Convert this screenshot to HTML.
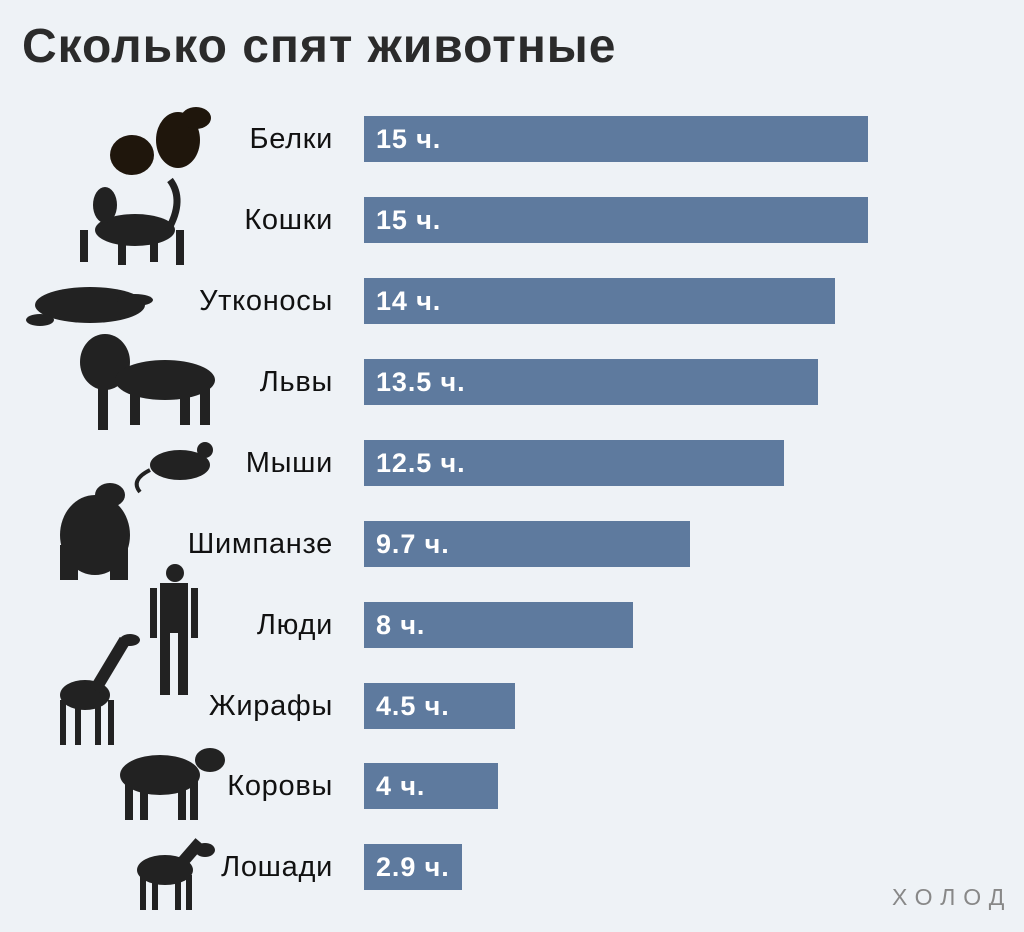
<!DOCTYPE html>
<html><head><meta charset="utf-8"><style>
body{margin:0;width:1024px;height:932px;background:#eef2f6;font-family:"Liberation Sans",sans-serif;position:relative;overflow:hidden}
h1{position:absolute;left:22px;top:19px;margin:0;font-size:48px;font-weight:bold;color:#2b2b2b;letter-spacing:1px}
.l{position:absolute;right:691px;font-size:29px;color:#111;line-height:46px;letter-spacing:0.7px}
.b{position:absolute;left:364px;height:46px;background:#5e7a9e;color:#fff;font-weight:bold;font-size:27px;line-height:46px;box-sizing:border-box;padding-left:12px;letter-spacing:0.9px}
.logo{position:absolute;left:892px;top:884px;font-size:23px;color:#888;letter-spacing:8px}
svg{position:absolute;left:0;top:0}
</style></head><body>
<h1>Сколько спят животные</h1>
<div class="l" style="top:116px">Белки</div><div class="b" style="top:116px;width:504px">15 ч.</div>
<div class="l" style="top:197px">Кошки</div><div class="b" style="top:197px;width:504px">15 ч.</div>
<div class="l" style="top:278px">Утконосы</div><div class="b" style="top:278px;width:471px">14 ч.</div>
<div class="l" style="top:359px">Львы</div><div class="b" style="top:359px;width:454px">13.5 ч.</div>
<div class="l" style="top:440px">Мыши</div><div class="b" style="top:440px;width:420px">12.5 ч.</div>
<div class="l" style="top:521px">Шимпанзе</div><div class="b" style="top:521px;width:326px">9.7 ч.</div>
<div class="l" style="top:602px">Люди</div><div class="b" style="top:602px;width:269px">8 ч.</div>
<div class="l" style="top:683px">Жирафы</div><div class="b" style="top:683px;width:151px">4.5 ч.</div>
<div class="l" style="top:763px">Коровы</div><div class="b" style="top:763px;width:134px">4 ч.</div>
<div class="l" style="top:844px">Лошади</div><div class="b" style="top:844px;width:98px">2.9 ч.</div>
<div class="logo">ХОЛОД</div>
<svg width="1024" height="932">
<g fill="#1f160c">
<ellipse cx="132" cy="155" rx="22" ry="20"/><ellipse cx="178" cy="140" rx="22" ry="28"/><ellipse cx="196" cy="118" rx="15" ry="11"/>
</g>
<g fill="#222">
<ellipse cx="135" cy="230" rx="40" ry="16"/><ellipse cx="105" cy="205" rx="12" ry="18"/><rect x="80" y="230" width="8" height="32"/><rect x="118" y="235" width="8" height="30"/><rect x="150" y="232" width="8" height="30"/><rect x="176" y="230" width="8" height="35"/><path d="M168 230 Q185 200 170 180" stroke="#222" stroke-width="7" fill="none"/>
<ellipse cx="90" cy="305" rx="55" ry="18"/><ellipse cx="135" cy="300" rx="18" ry="6"/><ellipse cx="40" cy="320" rx="14" ry="6"/>
<ellipse cx="105" cy="362" rx="25" ry="28"/><ellipse cx="165" cy="380" rx="50" ry="20"/><rect x="98" y="385" width="10" height="45"/><rect x="130" y="390" width="10" height="35"/><rect x="180" y="385" width="10" height="40"/><rect x="200" y="380" width="10" height="45"/>
<ellipse cx="180" cy="465" rx="30" ry="15"/><ellipse cx="205" cy="450" rx="8" ry="8"/><path d="M150 470 Q130 480 140 492" stroke="#222" stroke-width="4" fill="none"/>
<ellipse cx="95" cy="535" rx="35" ry="40"/><ellipse cx="110" cy="495" rx="15" ry="12"/><rect x="60" y="545" width="18" height="35"/><rect x="110" y="545" width="18" height="35"/>
<circle cx="175" cy="573" r="9"/><rect x="160" y="583" width="28" height="50"/><rect x="160" y="630" width="10" height="65"/><rect x="178" y="630" width="10" height="65"/><rect x="150" y="588" width="7" height="50"/><rect x="191" y="588" width="7" height="50"/>
<ellipse cx="85" cy="695" rx="25" ry="15"/><path d="M95 690 L125 640" stroke="#222" stroke-width="12"/><ellipse cx="130" cy="640" rx="10" ry="6"/><rect x="60" y="700" width="6" height="45"/><rect x="75" y="700" width="6" height="45"/><rect x="95" y="700" width="6" height="45"/><rect x="108" y="700" width="6" height="45"/>
<ellipse cx="160" cy="775" rx="40" ry="20"/><ellipse cx="210" cy="760" rx="15" ry="12"/><rect x="125" y="780" width="8" height="40"/><rect x="140" y="780" width="8" height="40"/><rect x="178" y="780" width="8" height="40"/><rect x="190" y="780" width="8" height="40"/>
<ellipse cx="165" cy="870" rx="28" ry="15"/><path d="M180 865 L200 842" stroke="#222" stroke-width="12"/><ellipse cx="205" cy="850" rx="10" ry="7"/><rect x="140" y="875" width="6" height="35"/><rect x="152" y="875" width="6" height="35"/><rect x="175" y="875" width="6" height="35"/><rect x="186" y="875" width="6" height="35"/>
</g>
</svg>
</body></html>
